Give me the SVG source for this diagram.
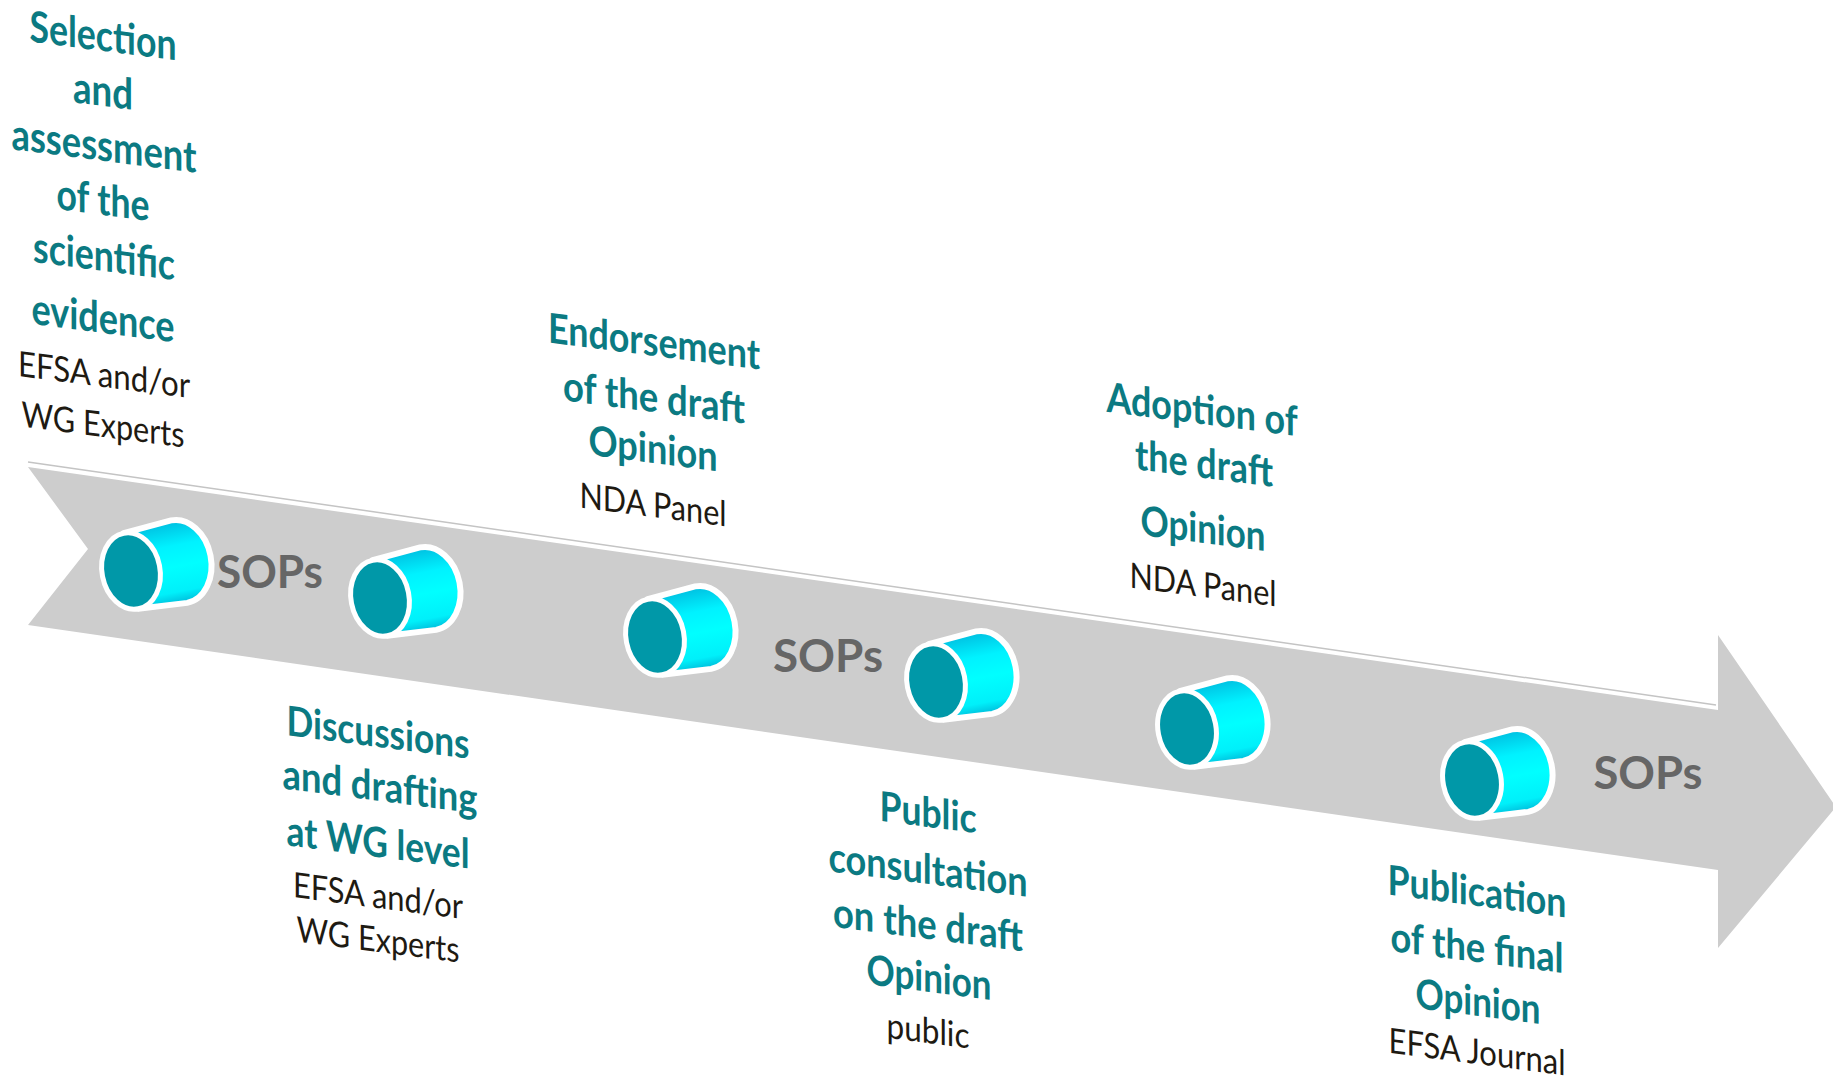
<svg xmlns="http://www.w3.org/2000/svg" xmlns:xlink="http://www.w3.org/1999/xlink" width="1833" height="1081" viewBox="0 0 1833 1081">
<style>
.teal{font-family:Lato,"Open Sans","Liberation Sans",sans-serif;font-weight:700;font-size:36px;fill:#0B7A82;text-anchor:middle}
.blk{font-family:Lato,"Open Sans","Liberation Sans",sans-serif;font-weight:400;font-size:32px;fill:#1E1A12;text-anchor:middle}
.sops{font-family:Lato,"Open Sans","Liberation Sans",sans-serif;font-weight:700;font-size:46px;fill:#666666;text-anchor:middle}
.body{fill:url(#cylGrad);stroke:#ffffff;stroke-width:6;stroke-linejoin:round}
.face{fill:#0098A8;stroke:#ffffff;stroke-width:5}
</style>
<defs>
<linearGradient id="cylGrad" x1="0" y1="0" x2="0" y2="1">
<stop offset="0" stop-color="#00BEE0"/>
<stop offset="0.3" stop-color="#00F2FF"/>
<stop offset="0.55" stop-color="#00FFFF"/>
<stop offset="0.85" stop-color="#00F0FA"/>
<stop offset="1" stop-color="#00B8D8"/>
</linearGradient>
<g id="cyl">
<path class="body" d="M0,-38.5 L49,-42 A32,42 0 0 1 49,42 L0,38.5 Z"/>
<ellipse class="face" cx="0" cy="0" rx="29" ry="38.5"/>
</g>
</defs>
<rect width="1833" height="1081" fill="#ffffff"/>
<g id="connectors">
<path id="timeline-arrow" d="M28,467 L1718,710 L1718,635 L1836,807 L1718,948 L1718,870 L28,625 L88,549 Z" fill="#CDCDCD"/>
<line x1="28" y1="462" x2="1716" y2="705" stroke="#C4C4C4" stroke-width="1.5"/>
</g>
<g id="cyl-1" transform="translate(131,571) rotate(-11)"><use href="#cyl" xlink:href="#cyl"/></g>
<g id="cyl-2" transform="translate(380,598) rotate(-11)"><use href="#cyl" xlink:href="#cyl"/></g>
<g id="cyl-3" transform="translate(655,637) rotate(-11)"><use href="#cyl" xlink:href="#cyl"/></g>
<g id="cyl-4" transform="translate(936,682) rotate(-11)"><use href="#cyl" xlink:href="#cyl"/></g>
<g id="cyl-5" transform="translate(1187,729) rotate(-11)"><use href="#cyl" xlink:href="#cyl"/></g>
<g id="cyl-6" transform="translate(1472,780) rotate(-11)"><use href="#cyl" xlink:href="#cyl"/></g>
<g id="sops-1"><text class="sops" x="270" y="588" textLength="106" lengthAdjust="spacingAndGlyphs">SOPs</text></g>
<g id="sops-2"><text class="sops" x="828" y="672" textLength="110" lengthAdjust="spacingAndGlyphs">SOPs</text></g>
<g id="sops-3"><text class="sops" x="1648" y="789" textLength="109" lengthAdjust="spacingAndGlyphs">SOPs</text></g>
<g id="step-selection">
<text class="teal" transform="translate(103,51) skewY(7.3) scale(1,1.2)" textLength="147" lengthAdjust="spacingAndGlyphs">Selection</text>
<text class="teal" transform="translate(103,106) skewY(7.3) scale(1,1.2)" textLength="60" lengthAdjust="spacingAndGlyphs">and</text>
<text class="teal" transform="translate(104,161) skewY(7.3) scale(1,1.2)" textLength="185" lengthAdjust="spacingAndGlyphs">assessment</text>
<text class="teal" transform="translate(103,215) skewY(7.3) scale(1,1.2)" textLength="93" lengthAdjust="spacingAndGlyphs">of the</text>
<text class="teal" transform="translate(104,271) skewY(7.3) scale(1,1.2)" textLength="142" lengthAdjust="spacingAndGlyphs">scientific</text>
<text class="teal" transform="translate(103,333) skewY(7.3) scale(1,1.2)" textLength="143" lengthAdjust="spacingAndGlyphs">evidence</text>
<text class="blk" transform="translate(104,387) skewY(7.3) scale(1,1.1)" textLength="172" lengthAdjust="spacingAndGlyphs">EFSA and/or</text>
<text class="blk" transform="translate(103,437) skewY(7.3) scale(1,1.1)" textLength="163" lengthAdjust="spacingAndGlyphs">WG Experts</text>
</g>
<g id="step-discussions">
<text class="teal" transform="translate(378,747) skewY(7.3) scale(1,1.15)" textLength="183" lengthAdjust="spacingAndGlyphs">Discussions</text>
<text class="teal" transform="translate(380,801) skewY(7.3) scale(1,1.15)" textLength="195" lengthAdjust="spacingAndGlyphs">and drafting</text>
<text class="teal" transform="translate(378,857) skewY(7.3) scale(1,1.15)" textLength="183" lengthAdjust="spacingAndGlyphs">at WG level</text>
<text class="blk" transform="translate(378,908) skewY(7.3) scale(1,1.1)" textLength="170" lengthAdjust="spacingAndGlyphs">EFSA and/or</text>
<text class="blk" transform="translate(378,952) skewY(7.3) scale(1,1.1)" textLength="163" lengthAdjust="spacingAndGlyphs">WG Experts</text>
</g>
<g id="step-endorsement">
<text class="teal" transform="translate(654,356) skewY(7.3) scale(1,1.15)" textLength="212" lengthAdjust="spacingAndGlyphs">Endorsement</text>
<text class="teal" transform="translate(654,412) skewY(7.3) scale(1,1.15)" textLength="182" lengthAdjust="spacingAndGlyphs">of the draft</text>
<text class="teal" transform="translate(653,463) skewY(7.3) scale(1,1.15)" textLength="129" lengthAdjust="spacingAndGlyphs">Opinion</text>
<text class="blk" transform="translate(653,517) skewY(7.3) scale(1,1.1)" textLength="147" lengthAdjust="spacingAndGlyphs">NDA Panel</text>
</g>
<g id="step-public-consultation">
<text class="teal" transform="translate(928,827) skewY(7.3) scale(1,1.15)" textLength="97" lengthAdjust="spacingAndGlyphs">Public</text>
<text class="teal" transform="translate(928,884) skewY(7.3) scale(1,1.15)" textLength="199" lengthAdjust="spacingAndGlyphs">consultation</text>
<text class="teal" transform="translate(928,939) skewY(7.3) scale(1,1.15)" textLength="190" lengthAdjust="spacingAndGlyphs">on the draft</text>
<text class="teal" transform="translate(929,992) skewY(7.3) scale(1,1.15)" textLength="125" lengthAdjust="spacingAndGlyphs">Opinion</text>
<text class="blk" transform="translate(928,1043) skewY(7.3) scale(1,1.1)" textLength="83" lengthAdjust="spacingAndGlyphs">public</text>
</g>
<g id="step-adoption">
<text class="teal" transform="translate(1202,424) skewY(7.3) scale(1,1.15)" textLength="191" lengthAdjust="spacingAndGlyphs">Adoption of</text>
<text class="teal" transform="translate(1204,478) skewY(7.3) scale(1,1.15)" textLength="138" lengthAdjust="spacingAndGlyphs">the draft</text>
<text class="teal" transform="translate(1203,543) skewY(7.3) scale(1,1.15)" textLength="125" lengthAdjust="spacingAndGlyphs">Opinion</text>
<text class="blk" transform="translate(1203,597) skewY(7.3) scale(1,1.1)" textLength="147" lengthAdjust="spacingAndGlyphs">NDA Panel</text>
</g>
<g id="step-publication">
<text class="teal" transform="translate(1477,906) skewY(7.3) scale(1,1.15)" textLength="179" lengthAdjust="spacingAndGlyphs">Publication</text>
<text class="teal" transform="translate(1477,962) skewY(7.3) scale(1,1.15)" textLength="173" lengthAdjust="spacingAndGlyphs">of the final</text>
<text class="teal" transform="translate(1478,1016) skewY(7.3) scale(1,1.15)" textLength="125" lengthAdjust="spacingAndGlyphs">Opinion</text>
<text class="blk" transform="translate(1477,1064) skewY(7.3) scale(1,1.1)" textLength="177" lengthAdjust="spacingAndGlyphs">EFSA Journal</text>
</g>
</svg>
